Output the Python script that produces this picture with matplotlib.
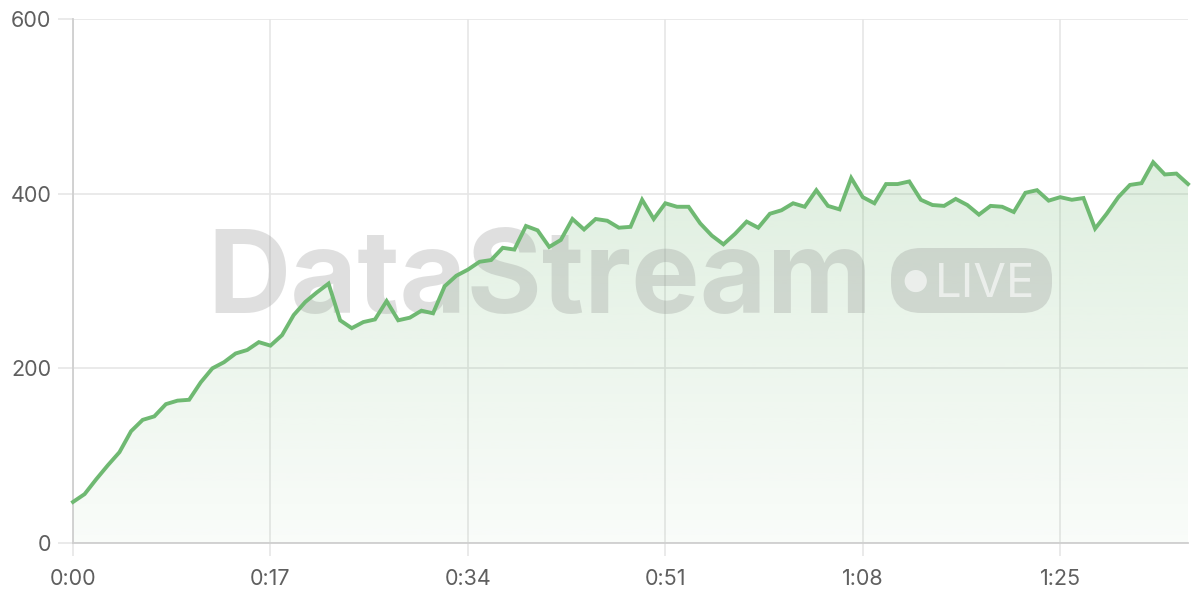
import numpy as np
import matplotlib
matplotlib.use("Agg")
import matplotlib.pyplot as plt
from matplotlib.patches import FancyBboxPatch, Polygon

# ---- data ----
seconds = list(range(97))
values = [47, 56, 73, 89, 104, 128, 141, 145, 159, 163,
          164, 184, 200, 207, 217, 221, 230, 226, 238, 261,
          276, 287, 297, 255, 246, 253, 256, 277, 255, 258,
          266, 263, 294, 306, 313, 322, 324, 338, 336, 363,
          358, 339, 347, 371, 359, 371, 369, 361, 362, 393,
          371, 389, 385, 385, 366, 352, 342, 354, 368, 361,
          377, 381, 389, 385, 404, 386, 382, 418, 396, 389,
          411, 411, 414, 393, 387, 386, 394, 387, 376, 386,
          385, 379, 401, 404, 392, 396, 393, 395, 360, 377,
          396, 410, 412, 436, 422, 423, 411]
xticks = [0, 17, 34, 51, 68, 85]
xtick_labels = ["0:00", "0:17", "0:34", "0:51", "1:08", "1:25"]
yticks = [0, 200, 400, 600]

line_color = "#6fb972"
grid_color = "#e6e6e6"
text_color = "#5f5f5f"

plt.rcParams['font.family'] = ['Inter', 'DejaVu Sans']

fig = plt.figure(figsize=(12, 6), dpi=100)
ax = fig.add_axes([73/1200, 57/600, (1188-73)/1200, (543-19)/600])
ax.set_xlim(0, 96)
ax.set_ylim(0, 600)

# grid
ax.set_xticks(xticks)
ax.set_xticklabels(xtick_labels)
ax.set_yticks(yticks)
ax.grid(True, color=grid_color, linewidth=1.2, zorder=0)
ax.set_axisbelow(True)
for s in ["top", "right"]:
    ax.spines[s].set_visible(False)
for s in ["left", "bottom"]:
    ax.spines[s].set_color("#cfcfcf")
    ax.spines[s].set_linewidth(1.3)
ax.tick_params(axis="both", width=1.2, color=grid_color,
               labelsize=15.5, labelcolor=text_color)
ax.tick_params(axis="y", length=11, pad=4.5)
ax.tick_params(axis="x", length=9, pad=10)

# gradient fill
x = np.array(seconds, dtype=float)
y = np.array(values, dtype=float)
verts = [(x[0], 0)] + list(zip(x, y)) + [(x[-1], 0)]
poly = Polygon(verts, closed=True, facecolor="none", edgecolor="none")
ax.add_patch(poly)
n = 256
alphas = np.linspace(0.04, 0.30, n)[:, None]
rgb = np.array(matplotlib.colors.to_rgb("#72b874"))
img = np.zeros((n, 1, 4))
img[..., :3] = rgb
img[..., 3] = alphas
im = ax.imshow(img, extent=[0, 96, 0, 600], origin="lower", aspect="auto", zorder=1)
im.set_clip_path(poly)

# watermark
wm_color = (0.55, 0.55, 0.55, 0.27)
fig.text(540/1200, (600-313)/600, "DataStream", fontsize=83, fontweight="bold",
         color=wm_color, ha="center", va="baseline", zorder=5,
         family=['Inter', 'DejaVu Sans'])
pill = FancyBboxPatch((891/1200, (600-313)/600), (1052-891)/1200, (313-248)/600,
                      boxstyle="round,pad=0,rounding_size=0.025",
                      transform=fig.transFigure, facecolor=wm_color,
                      edgecolor="none", zorder=5, mutation_aspect=2)
fig.patches.append(pill)
fig.text(915/1200, (600-281)/600, "\u25CF", fontsize=21, color=(1, 1, 1, 0.6),
         ha="center", va="center", family=['DejaVu Sans'], zorder=6)
fig.text(985/1200, (600-297)/600, "LIVE", fontsize=34, color=(1, 1, 1, 0.6),
         ha="center", va="baseline", family=['Inter', 'DejaVu Sans'], zorder=6)

# line on top
line_ax = fig.add_axes(ax.get_position(), sharex=ax, sharey=ax, zorder=10)
line_ax.patch.set_visible(False)
line_ax.axis("off")
line_ax.plot(x, y, color=line_color, linewidth=2.8, solid_joinstyle="miter",
             clip_on=False)

fig.savefig("out.png", dpi=100, facecolor="white")
